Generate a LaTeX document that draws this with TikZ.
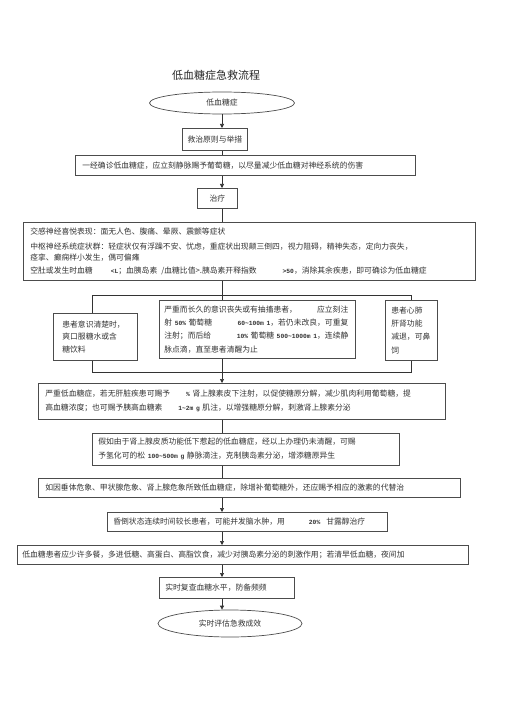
\documentclass[tikz,border=0pt]{standalone}
\usepackage{fontspec}
\setmainfont{Noto Sans CJK SC}
\newfontfamily\monofam{Liberation Mono}
\usetikzlibrary{arrows.meta,shapes.geometric}
\newcommand{\nm}[1]{{\monofam\bfseries\fontsize{6.3}{8}\selectfont #1}}
\newcommand{\jline}[1]{\leavevmode\hbox to 184pt{#1}}
\begin{document}
\begin{tikzpicture}[x=1pt,y=-1pt,
  every node/.style={font=\fontsize{7.8}{11}\selectfont, text=black!80},
  bx/.style={draw=black!70, line width=0.7pt, rectangle, anchor=north west, align=left, inner ysep=0pt},
  ov/.style={draw=black!70, line width=0.7pt, ellipse, inner sep=0pt},
  ln/.style={draw=black!80, line width=0.7pt},
  ar/.style={ln, -{Triangle[length=4pt,width=4pt]}}
]
\useasboundingbox (0,0) rectangle (505,714);

\node[font=\fontsize{11}{13}\selectfont, text=black!85] (title) at (216,75) {低血糖症急救流程};

\node[ov, minimum width=145pt, minimum height=22pt] (e1) at (222,103) {低血糖症};

\node[bx, align=center, inner xsep=5pt, text width=55pt, minimum height=22pt] (b2) at (182,128) {救治原则与举措};

\node[bx, inner xsep=7pt, text width=326pt, minimum height=20pt] (b3) at (75,155) {一经确诊低血糖症，应立刻静脉赐予葡萄糖，以尽量减少低血糖对神经系统的伤害};

\node[bx, align=center, inner xsep=0pt, text width=40pt, minimum height=20pt] (tr) at (197,188) {治疗};

\node[bx, inner xsep=7pt, text width=438pt, minimum height=58pt] (b4) at (23,222) {交感神经喜悦表现：面无人色、腹痛、晕厥、震颤等症状\\[4pt]
中枢神经系统症状群：轻症状仅有浮躁不安、忧虑，重症状出现颠三倒四，视力阻碍，精神失态，定向力丧失，\\
痉挛、癫痫样小发生，偶可偏瘫\\[2pt]
空肚或发生时血糖\hspace{18pt}\nm{<L}；血胰岛素\hspace{4pt}/血糖比值>.胰岛素开释指数\hspace{26pt}\nm{>50}，消除其余疾患，即可确诊为低血糖症};

\node[bx, font=\fontsize{7.8}{12.5}\selectfont, inner xsep=9pt, text width=66pt, minimum height=47pt] (bl) at (53,313) {患者意识清楚时，\\爽口服糖水或含\\糖饮料};

\node[bx, font=\fontsize{7.8}{13.3}\selectfont, inner xsep=5pt, text width=186pt, minimum height=58pt] (bm) at (159,300) {\jline{严重而长久的意识丧失或有抽搐患者，\hfill 应立刻注}\\
\jline{射 \nm{50\%} 葡萄糖\hfill\nm{60\textasciitilde100m 1}，若仍未改良，可重复}\\
\jline{注射；而后给\hfill\nm{10\%} 葡萄糖 \nm{500\textasciitilde1000m 1}，连续静}\\
脉点滴，直至患者清醒为止};

\node[bx, font=\fontsize{7.8}{13.3}\selectfont, inner xsep=6pt, text width=40pt, minimum height=60pt] (br) at (385,300) {患者心肺\\肝肾功能\\减退，可鼻\\饲};

\node[bx, font=\fontsize{7.8}{14}\selectfont, inner xsep=7pt, text width=393pt, minimum height=36pt] (b5) at (38,383) {严重低血糖症，若无肝脏疾患可赐予\hspace{16pt}\nm{\%} 肾上腺素皮下注射，以促使糖原分解，减少肌肉利用葡萄糖，提\\
高血糖浓度；也可赐予胰高血糖素\hspace{16pt}\nm{1\textasciitilde2m g} 肌注，以增强糖原分解，刺激肾上腺素分泌};

\node[bx, font=\fontsize{7.8}{14}\selectfont, inner xsep=6pt, text width=295pt, minimum height=32pt] (b6) at (92,433) {假如由于肾上腺皮质功能低下惹起的低血糖症，经以上办理仍未清醒，可赐\\
予氢化可的松 \nm{100\textasciitilde500m g} 静脉滴注，克制胰岛素分泌，增添糖原异生};

\node[bx, inner xsep=7pt, text width=408pt, minimum height=19pt] (b7) at (38,478) {如因垂体危象、甲状腺危象、肾上腺危象所致低血糖症，除增补葡萄糖外，还应赐予相应的激素的代替治};

\node[bx, inner xsep=6pt, text width=268pt, minimum height=19pt] (b8) at (107,512) {昏倒状态连续时间较长患者，可能并发脑水肿，用\hspace{24pt}\nm{20\%}\hspace{6pt}甘露醇治疗};

\node[bx, inner xsep=5pt, text width=441pt, minimum height=19pt] (b9) at (17,545) {低血糖患者应少许多餐，多进低糖、高蛋白、高脂饮食，减少对胰岛素分泌的刺激作用；若清早低血糖，夜间加};

\node[bx, inner xsep=6pt, text width=123pt, minimum height=21pt] (b10) at (159,577) {实时复查血糖水平，防备频频};

\node[ov, minimum width=144pt, minimum height=27pt] (e2) at (230,623.5) {实时评估急救成效};

\coordinate (ax) at (222,0);
\coordinate (lx) at (92,0);
\coordinate (rx) at (411,0);
\coordinate (sp) at (222,295);
\coordinate (mg) at (222,372);

\draw[ar] (e1.south -| ax) -- (b2.north -| ax);
\draw[ln] (b2.south -| ax) -- (b3.north -| ax);
\draw[ar] (b3.south -| ax) -- (tr.north -| ax);
\draw[ln] (tr.south -| ax) -- (b4.north -| ax);
\draw[ln] (b4.south -| ax) -- (bm.north -| ax);
\draw[ln] (bl.north -| lx) -- (sp -| lx) -- (sp -| rx) -- (br.north -| rx);
\draw[ln] (bl.south -| lx) -- (mg -| lx) -- (mg -| rx) -- (br.south -| rx);
\draw[ar] (bm.south -| ax) -- (b5.north -| ax);
\draw[ln] (b5.south -| ax) -- (b6.north -| ax);
\draw[ln] (b6.south -| ax) -- (b7.north -| ax);
\draw[ar] (b7.south -| ax) -- (b8.north -| ax);
\draw[ar] (b8.south -| ax) -- (b9.north -| ax);
\draw[ar] (b9.south -| ax) -- (b10.north -| ax);
\draw[ar] (b10.south -| ax) -- (e2.north -| ax);
\end{tikzpicture}
\end{document}
